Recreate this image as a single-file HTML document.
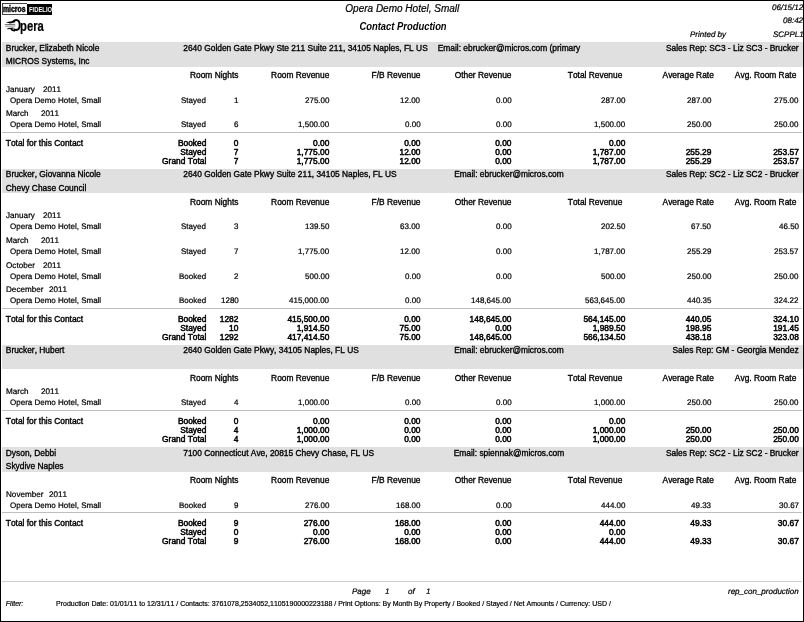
<!DOCTYPE html>
<html><head><meta charset="utf-8"><title>Contact Production</title>
<style>
html,body{margin:0;padding:0;background:#fff;}
body{width:804px;height:622px;position:relative;overflow:hidden;font-family:"Liberation Sans",Arial,sans-serif;color:#000;}
#pg{position:absolute;left:0;top:0;width:804px;height:622px;overflow:hidden;}
#pg span{position:absolute;white-space:pre;font-kerning:none;}
.band{position:absolute;left:2px;width:801px;background:#e0e0e0;}
.ln{position:absolute;left:2px;width:800px;height:1px;}
.i{font-style:italic;}
.bi{font-style:italic;font-weight:bold;}
#frame{position:absolute;left:0;top:0;width:802px;height:620px;border:1px solid #000;box-sizing:content-box;pointer-events:none;}
</style></head><body><div id="pg">
<div style="position:absolute;left:2px;top:3px;width:25px;height:12px;border:1px solid #444;border-right:0;box-sizing:border-box;background:#fff"></div>
<div style="position:absolute;left:27px;top:4px;width:25px;height:11px;background:#000"></div>
<span style="top:4px;font-size:8.5px;line-height:10px;left:3.40px;-webkit-text-stroke:0.45px;font-weight:bold;transform:scaleX(0.81);transform-origin:left;">micros</span>
<span style="top:6px;font-size:6.3px;line-height:7px;left:28.80px;font-weight:bold;color:#fff;transform:scaleX(0.93);transform-origin:left;">FIDELIO</span>
<span style="top:17px;font-size:15.2px;line-height:17px;left:10.60px;-webkit-text-stroke:0.2px;font-weight:bold;transform:scaleX(0.74);transform-origin:left;"><b style="display:inline-block;font-size:16px;transform:scaleX(1.108);transform-origin:left;margin-right:-0.27px;-webkit-text-stroke:0">O</b>pera</span>
<svg style="position:absolute;left:3px;top:18px" width="14" height="15" viewBox="3 18 14 15">
<rect x="3" y="22.0" width="11.2" height="7.6" fill="#fff"/>
<path d="M5.9 22.3 L13.0 21.0 L15.2 20.3 L15.2 22.3 L10 23.4 Z" fill="#000"/>
<path d="M4.8 24.7 L15.2 24.3" stroke="#6a6a6a" stroke-width="1"/>
<path d="M5.3 26.3 L15.4 25.9" stroke="#909090" stroke-width="1"/>
<path d="M7.4 28.6 L13.6 28.1" stroke="#1a1a1a" stroke-width="1.2"/>
<path d="M10.9 28.9 Q12.4 30.9 15 30.7" stroke="#000" stroke-width="1.6" fill="none"/>
</svg>
<span class="i" style="top:3px;font-size:10px;line-height:11px;left:202.30px;width:400px;text-align:center;-webkit-text-stroke:0.2px;">Opera Demo Hotel, Small</span>
<span class="bi" style="top:21px;font-size:10.4px;line-height:11px;left:202.60px;width:400px;text-align:center;transform:scaleX(0.905);">Contact Production</span>
<span class="i" style="top:3px;font-size:8px;line-height:9px;right:0.70px;-webkit-text-stroke:0.22px;transform:matrix(1,0,0.002,1,0,0);">06/15/12</span>
<span class="i" style="top:16px;font-size:8px;line-height:9px;right:0.70px;-webkit-text-stroke:0.22px;transform:matrix(1,0,0.002,1,0,0);">08:42</span>
<span class="i" style="top:30px;font-size:8px;line-height:9px;right:0.70px;-webkit-text-stroke:0.22px;transform:matrix(1,0,0.002,1,0,0);">SCPPL1</span>
<span class="i" style="top:30px;font-size:8px;line-height:9px;left:689.80px;-webkit-text-stroke:0.22px;transform:matrix(1,0,0.002,1,0,0);">Printed by</span>
<div class="band" style="top:42px;height:25px"></div>
<span style="top:43px;font-size:8.4px;line-height:10px;left:5.80px;-webkit-text-stroke:0.33px;">Brucker, Elizabeth Nicole</span>
<span style="top:56px;font-size:8.4px;line-height:10px;left:5.80px;-webkit-text-stroke:0.33px;">MICROS Systems, Inc</span>
<span style="top:43px;font-size:8.4px;line-height:10px;left:183.30px;-webkit-text-stroke:0.33px;">2640 Golden Gate Pkwy Ste 211 Suite 211, 34105 Naples, FL US</span>
<span style="top:43px;font-size:8.4px;line-height:10px;left:309.00px;width:400px;text-align:center;-webkit-text-stroke:0.33px;">Email: ebrucker@micros.com (primary</span>
<span style="top:43px;font-size:8.4px;line-height:10px;right:5.40px;-webkit-text-stroke:0.33px;">Sales Rep: SC3 - Liz SC3 - Brucker</span>
<span style="top:70px;font-size:8.4px;line-height:10px;right:565.60px;-webkit-text-stroke:0.33px;">Room Nights</span>
<span style="top:70px;font-size:8.4px;line-height:10px;right:474.70px;-webkit-text-stroke:0.33px;">Room Revenue</span>
<span style="top:70px;font-size:8.4px;line-height:10px;right:383.50px;-webkit-text-stroke:0.33px;">F/B Revenue</span>
<span style="top:70px;font-size:8.4px;line-height:10px;right:292.50px;-webkit-text-stroke:0.33px;">Other Revenue</span>
<span style="top:70px;font-size:8.4px;line-height:10px;right:181.70px;-webkit-text-stroke:0.33px;">Total Revenue</span>
<span style="top:70px;font-size:8.4px;line-height:10px;right:90.20px;-webkit-text-stroke:0.33px;">Average Rate</span>
<span style="top:70px;font-size:8.4px;line-height:10px;right:7.70px;-webkit-text-stroke:0.33px;">Avg. Room Rate</span>
<span style="top:85px;font-size:8.15px;line-height:9px;left:5.80px;-webkit-text-stroke:0.22px;transform:matrix(1,0,0.002,1,0,0);">January</span>
<span style="top:85px;font-size:8.15px;line-height:9px;left:43.10px;-webkit-text-stroke:0.22px;transform:matrix(1,0,0.002,1,0,0);">2011</span>
<span style="top:96px;font-size:8.0px;line-height:9px;left:10.20px;-webkit-text-stroke:0.22px;transform:matrix(1,0,0.002,1,0,0);">Opera Demo Hotel, Small</span>
<span style="top:96px;font-size:8.0px;line-height:9px;right:597.70px;-webkit-text-stroke:0.22px;transform:matrix(1,0,0.002,1,0,0);">Stayed</span>
<span style="top:96px;font-size:8.0px;line-height:9px;right:565.60px;-webkit-text-stroke:0.22px;transform:matrix(1,0,0.002,1,0,0);">1</span>
<span style="top:96px;font-size:8.0px;line-height:9px;right:474.70px;-webkit-text-stroke:0.22px;transform:matrix(1,0,0.002,1,0,0);">275.00</span>
<span style="top:96px;font-size:8.0px;line-height:9px;right:383.50px;-webkit-text-stroke:0.22px;transform:matrix(1,0,0.002,1,0,0);">12.00</span>
<span style="top:96px;font-size:8.0px;line-height:9px;right:292.50px;-webkit-text-stroke:0.22px;transform:matrix(1,0,0.002,1,0,0);">0.00</span>
<span style="top:96px;font-size:8.0px;line-height:9px;right:178.70px;-webkit-text-stroke:0.22px;transform:matrix(1,0,0.002,1,0,0);">287.00</span>
<span style="top:96px;font-size:8.0px;line-height:9px;right:92.70px;-webkit-text-stroke:0.22px;transform:matrix(1,0,0.002,1,0,0);">287.00</span>
<span style="top:96px;font-size:8.0px;line-height:9px;right:5.20px;-webkit-text-stroke:0.22px;transform:matrix(1,0,0.002,1,0,0);">275.00</span>
<span style="top:109px;font-size:8.15px;line-height:9px;left:5.80px;-webkit-text-stroke:0.22px;transform:matrix(1,0,0.002,1,0,0);">March</span>
<span style="top:109px;font-size:8.15px;line-height:9px;left:41.10px;-webkit-text-stroke:0.22px;transform:matrix(1,0,0.002,1,0,0);">2011</span>
<span style="top:120px;font-size:8.0px;line-height:9px;left:10.20px;-webkit-text-stroke:0.22px;transform:matrix(1,0,0.002,1,0,0);">Opera Demo Hotel, Small</span>
<span style="top:120px;font-size:8.0px;line-height:9px;right:597.70px;-webkit-text-stroke:0.22px;transform:matrix(1,0,0.002,1,0,0);">Stayed</span>
<span style="top:120px;font-size:8.0px;line-height:9px;right:565.60px;-webkit-text-stroke:0.22px;transform:matrix(1,0,0.002,1,0,0);">6</span>
<span style="top:120px;font-size:8.0px;line-height:9px;right:474.70px;-webkit-text-stroke:0.22px;transform:matrix(1,0,0.002,1,0,0);">1,500.00</span>
<span style="top:120px;font-size:8.0px;line-height:9px;right:383.50px;-webkit-text-stroke:0.22px;transform:matrix(1,0,0.002,1,0,0);">0.00</span>
<span style="top:120px;font-size:8.0px;line-height:9px;right:292.50px;-webkit-text-stroke:0.22px;transform:matrix(1,0,0.002,1,0,0);">0.00</span>
<span style="top:120px;font-size:8.0px;line-height:9px;right:178.70px;-webkit-text-stroke:0.22px;transform:matrix(1,0,0.002,1,0,0);">1,500.00</span>
<span style="top:120px;font-size:8.0px;line-height:9px;right:92.70px;-webkit-text-stroke:0.22px;transform:matrix(1,0,0.002,1,0,0);">250.00</span>
<span style="top:120px;font-size:8.0px;line-height:9px;right:5.20px;-webkit-text-stroke:0.22px;transform:matrix(1,0,0.002,1,0,0);">250.00</span>
<div class="ln" style="top:132px;background:#bebebe"></div>
<span style="top:138px;font-size:8.4px;line-height:10px;left:5.80px;-webkit-text-stroke:0.38px;">Total for this Contact</span>
<span style="top:138px;font-size:8.4px;line-height:10px;right:597.70px;-webkit-text-stroke:0.48px;">Booked</span>
<span style="top:138px;font-size:8.4px;line-height:10px;right:565.60px;-webkit-text-stroke:0.48px;">0</span>
<span style="top:138px;font-size:8.4px;line-height:10px;right:474.70px;-webkit-text-stroke:0.48px;">0.00</span>
<span style="top:138px;font-size:8.4px;line-height:10px;right:383.50px;-webkit-text-stroke:0.48px;">0.00</span>
<span style="top:138px;font-size:8.4px;line-height:10px;right:292.50px;-webkit-text-stroke:0.48px;">0.00</span>
<span style="top:138px;font-size:8.4px;line-height:10px;right:178.70px;-webkit-text-stroke:0.48px;">0.00</span>
<span style="top:147px;font-size:8.4px;line-height:10px;right:597.70px;-webkit-text-stroke:0.48px;">Stayed</span>
<span style="top:147px;font-size:8.4px;line-height:10px;right:565.60px;-webkit-text-stroke:0.48px;">7</span>
<span style="top:147px;font-size:8.4px;line-height:10px;right:474.70px;-webkit-text-stroke:0.48px;">1,775.00</span>
<span style="top:147px;font-size:8.4px;line-height:10px;right:383.50px;-webkit-text-stroke:0.48px;">12.00</span>
<span style="top:147px;font-size:8.4px;line-height:10px;right:292.50px;-webkit-text-stroke:0.48px;">0.00</span>
<span style="top:147px;font-size:8.4px;line-height:10px;right:178.70px;-webkit-text-stroke:0.48px;">1,787.00</span>
<span style="top:147px;font-size:8.4px;line-height:10px;right:92.70px;-webkit-text-stroke:0.48px;">255.29</span>
<span style="top:147px;font-size:8.4px;line-height:10px;right:5.20px;-webkit-text-stroke:0.48px;">253.57</span>
<span style="top:156px;font-size:8.4px;line-height:10px;right:597.70px;-webkit-text-stroke:0.48px;">Grand Total</span>
<span style="top:156px;font-size:8.4px;line-height:10px;right:565.60px;-webkit-text-stroke:0.48px;">7</span>
<span style="top:156px;font-size:8.4px;line-height:10px;right:474.70px;-webkit-text-stroke:0.48px;">1,775.00</span>
<span style="top:156px;font-size:8.4px;line-height:10px;right:383.50px;-webkit-text-stroke:0.48px;">12.00</span>
<span style="top:156px;font-size:8.4px;line-height:10px;right:292.50px;-webkit-text-stroke:0.48px;">0.00</span>
<span style="top:156px;font-size:8.4px;line-height:10px;right:178.70px;-webkit-text-stroke:0.48px;">1,787.00</span>
<span style="top:156px;font-size:8.4px;line-height:10px;right:92.70px;-webkit-text-stroke:0.48px;">255.29</span>
<span style="top:156px;font-size:8.4px;line-height:10px;right:5.20px;-webkit-text-stroke:0.48px;">253.57</span>
<div class="band" style="top:169px;height:24px"></div>
<span style="top:169px;font-size:8.4px;line-height:10px;left:5.80px;-webkit-text-stroke:0.33px;">Brucker, Giovanna Nicole</span>
<span style="top:183px;font-size:8.4px;line-height:10px;left:5.80px;-webkit-text-stroke:0.33px;">Chevy Chase Council</span>
<span style="top:169px;font-size:8.4px;line-height:10px;left:183.30px;-webkit-text-stroke:0.33px;">2640 Golden Gate Pkwy Suite 211, 34105 Naples, FL US</span>
<span style="top:169px;font-size:8.4px;line-height:10px;left:309.00px;width:400px;text-align:center;-webkit-text-stroke:0.33px;">Email: ebrucker@micros.com</span>
<span style="top:169px;font-size:8.4px;line-height:10px;right:5.40px;-webkit-text-stroke:0.33px;">Sales Rep: SC2 - Liz SC2 - Brucker</span>
<span style="top:197px;font-size:8.4px;line-height:10px;right:565.60px;-webkit-text-stroke:0.33px;">Room Nights</span>
<span style="top:197px;font-size:8.4px;line-height:10px;right:474.70px;-webkit-text-stroke:0.33px;">Room Revenue</span>
<span style="top:197px;font-size:8.4px;line-height:10px;right:383.50px;-webkit-text-stroke:0.33px;">F/B Revenue</span>
<span style="top:197px;font-size:8.4px;line-height:10px;right:292.50px;-webkit-text-stroke:0.33px;">Other Revenue</span>
<span style="top:197px;font-size:8.4px;line-height:10px;right:181.70px;-webkit-text-stroke:0.33px;">Total Revenue</span>
<span style="top:197px;font-size:8.4px;line-height:10px;right:90.20px;-webkit-text-stroke:0.33px;">Average Rate</span>
<span style="top:197px;font-size:8.4px;line-height:10px;right:7.70px;-webkit-text-stroke:0.33px;">Avg. Room Rate</span>
<span style="top:211px;font-size:8.15px;line-height:9px;left:5.80px;-webkit-text-stroke:0.22px;transform:matrix(1,0,0.002,1,0,0);">January</span>
<span style="top:211px;font-size:8.15px;line-height:9px;left:43.10px;-webkit-text-stroke:0.22px;transform:matrix(1,0,0.002,1,0,0);">2011</span>
<span style="top:222px;font-size:8.0px;line-height:9px;left:10.20px;-webkit-text-stroke:0.22px;transform:matrix(1,0,0.002,1,0,0);">Opera Demo Hotel, Small</span>
<span style="top:222px;font-size:8.0px;line-height:9px;right:597.70px;-webkit-text-stroke:0.22px;transform:matrix(1,0,0.002,1,0,0);">Stayed</span>
<span style="top:222px;font-size:8.0px;line-height:9px;right:565.60px;-webkit-text-stroke:0.22px;transform:matrix(1,0,0.002,1,0,0);">3</span>
<span style="top:222px;font-size:8.0px;line-height:9px;right:474.70px;-webkit-text-stroke:0.22px;transform:matrix(1,0,0.002,1,0,0);">139.50</span>
<span style="top:222px;font-size:8.0px;line-height:9px;right:383.50px;-webkit-text-stroke:0.22px;transform:matrix(1,0,0.002,1,0,0);">63.00</span>
<span style="top:222px;font-size:8.0px;line-height:9px;right:292.50px;-webkit-text-stroke:0.22px;transform:matrix(1,0,0.002,1,0,0);">0.00</span>
<span style="top:222px;font-size:8.0px;line-height:9px;right:178.70px;-webkit-text-stroke:0.22px;transform:matrix(1,0,0.002,1,0,0);">202.50</span>
<span style="top:222px;font-size:8.0px;line-height:9px;right:92.70px;-webkit-text-stroke:0.22px;transform:matrix(1,0,0.002,1,0,0);">67.50</span>
<span style="top:222px;font-size:8.0px;line-height:9px;right:5.20px;-webkit-text-stroke:0.22px;transform:matrix(1,0,0.002,1,0,0);">46.50</span>
<span style="top:236px;font-size:8.15px;line-height:9px;left:5.80px;-webkit-text-stroke:0.22px;transform:matrix(1,0,0.002,1,0,0);">March</span>
<span style="top:236px;font-size:8.15px;line-height:9px;left:41.10px;-webkit-text-stroke:0.22px;transform:matrix(1,0,0.002,1,0,0);">2011</span>
<span style="top:247px;font-size:8.0px;line-height:9px;left:10.20px;-webkit-text-stroke:0.22px;transform:matrix(1,0,0.002,1,0,0);">Opera Demo Hotel, Small</span>
<span style="top:247px;font-size:8.0px;line-height:9px;right:597.70px;-webkit-text-stroke:0.22px;transform:matrix(1,0,0.002,1,0,0);">Stayed</span>
<span style="top:247px;font-size:8.0px;line-height:9px;right:565.60px;-webkit-text-stroke:0.22px;transform:matrix(1,0,0.002,1,0,0);">7</span>
<span style="top:247px;font-size:8.0px;line-height:9px;right:474.70px;-webkit-text-stroke:0.22px;transform:matrix(1,0,0.002,1,0,0);">1,775.00</span>
<span style="top:247px;font-size:8.0px;line-height:9px;right:383.50px;-webkit-text-stroke:0.22px;transform:matrix(1,0,0.002,1,0,0);">12.00</span>
<span style="top:247px;font-size:8.0px;line-height:9px;right:292.50px;-webkit-text-stroke:0.22px;transform:matrix(1,0,0.002,1,0,0);">0.00</span>
<span style="top:247px;font-size:8.0px;line-height:9px;right:178.70px;-webkit-text-stroke:0.22px;transform:matrix(1,0,0.002,1,0,0);">1,787.00</span>
<span style="top:247px;font-size:8.0px;line-height:9px;right:92.70px;-webkit-text-stroke:0.22px;transform:matrix(1,0,0.002,1,0,0);">255.29</span>
<span style="top:247px;font-size:8.0px;line-height:9px;right:5.20px;-webkit-text-stroke:0.22px;transform:matrix(1,0,0.002,1,0,0);">253.57</span>
<span style="top:261px;font-size:8.15px;line-height:9px;left:5.80px;-webkit-text-stroke:0.22px;transform:matrix(1,0,0.002,1,0,0);">October</span>
<span style="top:261px;font-size:8.15px;line-height:9px;left:43.10px;-webkit-text-stroke:0.22px;transform:matrix(1,0,0.002,1,0,0);">2011</span>
<span style="top:272px;font-size:8.0px;line-height:9px;left:10.20px;-webkit-text-stroke:0.22px;transform:matrix(1,0,0.002,1,0,0);">Opera Demo Hotel, Small</span>
<span style="top:272px;font-size:8.0px;line-height:9px;right:597.70px;-webkit-text-stroke:0.22px;transform:matrix(1,0,0.002,1,0,0);">Booked</span>
<span style="top:272px;font-size:8.0px;line-height:9px;right:565.60px;-webkit-text-stroke:0.22px;transform:matrix(1,0,0.002,1,0,0);">2</span>
<span style="top:272px;font-size:8.0px;line-height:9px;right:474.70px;-webkit-text-stroke:0.22px;transform:matrix(1,0,0.002,1,0,0);">500.00</span>
<span style="top:272px;font-size:8.0px;line-height:9px;right:383.50px;-webkit-text-stroke:0.22px;transform:matrix(1,0,0.002,1,0,0);">0.00</span>
<span style="top:272px;font-size:8.0px;line-height:9px;right:292.50px;-webkit-text-stroke:0.22px;transform:matrix(1,0,0.002,1,0,0);">0.00</span>
<span style="top:272px;font-size:8.0px;line-height:9px;right:178.70px;-webkit-text-stroke:0.22px;transform:matrix(1,0,0.002,1,0,0);">500.00</span>
<span style="top:272px;font-size:8.0px;line-height:9px;right:92.70px;-webkit-text-stroke:0.22px;transform:matrix(1,0,0.002,1,0,0);">250.00</span>
<span style="top:272px;font-size:8.0px;line-height:9px;right:5.20px;-webkit-text-stroke:0.22px;transform:matrix(1,0,0.002,1,0,0);">250.00</span>
<span style="top:285px;font-size:8.15px;line-height:9px;left:5.80px;-webkit-text-stroke:0.22px;transform:matrix(1,0,0.002,1,0,0);">December</span>
<span style="top:285px;font-size:8.15px;line-height:9px;left:48.80px;-webkit-text-stroke:0.22px;transform:matrix(1,0,0.002,1,0,0);">2011</span>
<span style="top:296px;font-size:8.0px;line-height:9px;left:10.20px;-webkit-text-stroke:0.22px;transform:matrix(1,0,0.002,1,0,0);">Opera Demo Hotel, Small</span>
<span style="top:296px;font-size:8.0px;line-height:9px;right:597.70px;-webkit-text-stroke:0.22px;transform:matrix(1,0,0.002,1,0,0);">Booked</span>
<span style="top:296px;font-size:8.0px;line-height:9px;right:565.60px;-webkit-text-stroke:0.22px;transform:matrix(1,0,0.002,1,0,0);">1280</span>
<span style="top:296px;font-size:8.0px;line-height:9px;right:474.70px;-webkit-text-stroke:0.22px;transform:matrix(1,0,0.002,1,0,0);">415,000.00</span>
<span style="top:296px;font-size:8.0px;line-height:9px;right:383.50px;-webkit-text-stroke:0.22px;transform:matrix(1,0,0.002,1,0,0);">0.00</span>
<span style="top:296px;font-size:8.0px;line-height:9px;right:292.50px;-webkit-text-stroke:0.22px;transform:matrix(1,0,0.002,1,0,0);">148,645.00</span>
<span style="top:296px;font-size:8.0px;line-height:9px;right:178.70px;-webkit-text-stroke:0.22px;transform:matrix(1,0,0.002,1,0,0);">563,645.00</span>
<span style="top:296px;font-size:8.0px;line-height:9px;right:92.70px;-webkit-text-stroke:0.22px;transform:matrix(1,0,0.002,1,0,0);">440.35</span>
<span style="top:296px;font-size:8.0px;line-height:9px;right:5.20px;-webkit-text-stroke:0.22px;transform:matrix(1,0,0.002,1,0,0);">324.22</span>
<div class="ln" style="top:308px;background:#bebebe"></div>
<span style="top:314px;font-size:8.4px;line-height:10px;left:5.80px;-webkit-text-stroke:0.38px;">Total for this Contact</span>
<span style="top:314px;font-size:8.4px;line-height:10px;right:597.70px;-webkit-text-stroke:0.48px;">Booked</span>
<span style="top:314px;font-size:8.4px;line-height:10px;right:565.60px;-webkit-text-stroke:0.48px;">1282</span>
<span style="top:314px;font-size:8.4px;line-height:10px;right:474.70px;-webkit-text-stroke:0.48px;">415,500.00</span>
<span style="top:314px;font-size:8.4px;line-height:10px;right:383.50px;-webkit-text-stroke:0.48px;">0.00</span>
<span style="top:314px;font-size:8.4px;line-height:10px;right:292.50px;-webkit-text-stroke:0.48px;">148,645.00</span>
<span style="top:314px;font-size:8.4px;line-height:10px;right:178.70px;-webkit-text-stroke:0.48px;">564,145.00</span>
<span style="top:314px;font-size:8.4px;line-height:10px;right:92.70px;-webkit-text-stroke:0.48px;">440.05</span>
<span style="top:314px;font-size:8.4px;line-height:10px;right:5.20px;-webkit-text-stroke:0.48px;">324.10</span>
<span style="top:323px;font-size:8.4px;line-height:10px;right:597.70px;-webkit-text-stroke:0.48px;">Stayed</span>
<span style="top:323px;font-size:8.4px;line-height:10px;right:565.60px;-webkit-text-stroke:0.48px;">10</span>
<span style="top:323px;font-size:8.4px;line-height:10px;right:474.70px;-webkit-text-stroke:0.48px;">1,914.50</span>
<span style="top:323px;font-size:8.4px;line-height:10px;right:383.50px;-webkit-text-stroke:0.48px;">75.00</span>
<span style="top:323px;font-size:8.4px;line-height:10px;right:292.50px;-webkit-text-stroke:0.48px;">0.00</span>
<span style="top:323px;font-size:8.4px;line-height:10px;right:178.70px;-webkit-text-stroke:0.48px;">1,989.50</span>
<span style="top:323px;font-size:8.4px;line-height:10px;right:92.70px;-webkit-text-stroke:0.48px;">198.95</span>
<span style="top:323px;font-size:8.4px;line-height:10px;right:5.20px;-webkit-text-stroke:0.48px;">191.45</span>
<span style="top:332px;font-size:8.4px;line-height:10px;right:597.70px;-webkit-text-stroke:0.48px;">Grand Total</span>
<span style="top:332px;font-size:8.4px;line-height:10px;right:565.60px;-webkit-text-stroke:0.48px;">1292</span>
<span style="top:332px;font-size:8.4px;line-height:10px;right:474.70px;-webkit-text-stroke:0.48px;">417,414.50</span>
<span style="top:332px;font-size:8.4px;line-height:10px;right:383.50px;-webkit-text-stroke:0.48px;">75.00</span>
<span style="top:332px;font-size:8.4px;line-height:10px;right:292.50px;-webkit-text-stroke:0.48px;">148,645.00</span>
<span style="top:332px;font-size:8.4px;line-height:10px;right:178.70px;-webkit-text-stroke:0.48px;">566,134.50</span>
<span style="top:332px;font-size:8.4px;line-height:10px;right:92.70px;-webkit-text-stroke:0.48px;">438.18</span>
<span style="top:332px;font-size:8.4px;line-height:10px;right:5.20px;-webkit-text-stroke:0.48px;">323.08</span>
<div class="band" style="top:345px;height:24px"></div>
<span style="top:345px;font-size:8.4px;line-height:10px;left:5.80px;-webkit-text-stroke:0.33px;">Brucker, Hubert</span>
<span style="top:345px;font-size:8.4px;line-height:10px;left:183.30px;-webkit-text-stroke:0.33px;">2640 Golden Gate Pkwy, 34105 Naples, FL US</span>
<span style="top:345px;font-size:8.4px;line-height:10px;left:309.00px;width:400px;text-align:center;-webkit-text-stroke:0.33px;">Email: ebrucker@micros.com</span>
<span style="top:345px;font-size:8.4px;line-height:10px;right:5.40px;-webkit-text-stroke:0.33px;">Sales Rep: GM - Georgia Mendez</span>
<span style="top:373px;font-size:8.4px;line-height:10px;right:565.60px;-webkit-text-stroke:0.33px;">Room Nights</span>
<span style="top:373px;font-size:8.4px;line-height:10px;right:474.70px;-webkit-text-stroke:0.33px;">Room Revenue</span>
<span style="top:373px;font-size:8.4px;line-height:10px;right:383.50px;-webkit-text-stroke:0.33px;">F/B Revenue</span>
<span style="top:373px;font-size:8.4px;line-height:10px;right:292.50px;-webkit-text-stroke:0.33px;">Other Revenue</span>
<span style="top:373px;font-size:8.4px;line-height:10px;right:181.70px;-webkit-text-stroke:0.33px;">Total Revenue</span>
<span style="top:373px;font-size:8.4px;line-height:10px;right:90.20px;-webkit-text-stroke:0.33px;">Average Rate</span>
<span style="top:373px;font-size:8.4px;line-height:10px;right:7.70px;-webkit-text-stroke:0.33px;">Avg. Room Rate</span>
<span style="top:387px;font-size:8.15px;line-height:9px;left:5.80px;-webkit-text-stroke:0.22px;transform:matrix(1,0,0.002,1,0,0);">March</span>
<span style="top:387px;font-size:8.15px;line-height:9px;left:41.10px;-webkit-text-stroke:0.22px;transform:matrix(1,0,0.002,1,0,0);">2011</span>
<span style="top:398px;font-size:8.0px;line-height:9px;left:10.20px;-webkit-text-stroke:0.22px;transform:matrix(1,0,0.002,1,0,0);">Opera Demo Hotel, Small</span>
<span style="top:398px;font-size:8.0px;line-height:9px;right:597.70px;-webkit-text-stroke:0.22px;transform:matrix(1,0,0.002,1,0,0);">Stayed</span>
<span style="top:398px;font-size:8.0px;line-height:9px;right:565.60px;-webkit-text-stroke:0.22px;transform:matrix(1,0,0.002,1,0,0);">4</span>
<span style="top:398px;font-size:8.0px;line-height:9px;right:474.70px;-webkit-text-stroke:0.22px;transform:matrix(1,0,0.002,1,0,0);">1,000.00</span>
<span style="top:398px;font-size:8.0px;line-height:9px;right:383.50px;-webkit-text-stroke:0.22px;transform:matrix(1,0,0.002,1,0,0);">0.00</span>
<span style="top:398px;font-size:8.0px;line-height:9px;right:292.50px;-webkit-text-stroke:0.22px;transform:matrix(1,0,0.002,1,0,0);">0.00</span>
<span style="top:398px;font-size:8.0px;line-height:9px;right:178.70px;-webkit-text-stroke:0.22px;transform:matrix(1,0,0.002,1,0,0);">1,000.00</span>
<span style="top:398px;font-size:8.0px;line-height:9px;right:92.70px;-webkit-text-stroke:0.22px;transform:matrix(1,0,0.002,1,0,0);">250.00</span>
<span style="top:398px;font-size:8.0px;line-height:9px;right:5.20px;-webkit-text-stroke:0.22px;transform:matrix(1,0,0.002,1,0,0);">250.00</span>
<div class="ln" style="top:410px;background:#bebebe"></div>
<span style="top:416px;font-size:8.4px;line-height:10px;left:5.80px;-webkit-text-stroke:0.38px;">Total for this Contact</span>
<span style="top:416px;font-size:8.4px;line-height:10px;right:597.70px;-webkit-text-stroke:0.48px;">Booked</span>
<span style="top:416px;font-size:8.4px;line-height:10px;right:565.60px;-webkit-text-stroke:0.48px;">0</span>
<span style="top:416px;font-size:8.4px;line-height:10px;right:474.70px;-webkit-text-stroke:0.48px;">0.00</span>
<span style="top:416px;font-size:8.4px;line-height:10px;right:383.50px;-webkit-text-stroke:0.48px;">0.00</span>
<span style="top:416px;font-size:8.4px;line-height:10px;right:292.50px;-webkit-text-stroke:0.48px;">0.00</span>
<span style="top:416px;font-size:8.4px;line-height:10px;right:178.70px;-webkit-text-stroke:0.48px;">0.00</span>
<span style="top:425px;font-size:8.4px;line-height:10px;right:597.70px;-webkit-text-stroke:0.48px;">Stayed</span>
<span style="top:425px;font-size:8.4px;line-height:10px;right:565.60px;-webkit-text-stroke:0.48px;">4</span>
<span style="top:425px;font-size:8.4px;line-height:10px;right:474.70px;-webkit-text-stroke:0.48px;">1,000.00</span>
<span style="top:425px;font-size:8.4px;line-height:10px;right:383.50px;-webkit-text-stroke:0.48px;">0.00</span>
<span style="top:425px;font-size:8.4px;line-height:10px;right:292.50px;-webkit-text-stroke:0.48px;">0.00</span>
<span style="top:425px;font-size:8.4px;line-height:10px;right:178.70px;-webkit-text-stroke:0.48px;">1,000.00</span>
<span style="top:425px;font-size:8.4px;line-height:10px;right:92.70px;-webkit-text-stroke:0.48px;">250.00</span>
<span style="top:425px;font-size:8.4px;line-height:10px;right:5.20px;-webkit-text-stroke:0.48px;">250.00</span>
<span style="top:434px;font-size:8.4px;line-height:10px;right:597.70px;-webkit-text-stroke:0.48px;">Grand Total</span>
<span style="top:434px;font-size:8.4px;line-height:10px;right:565.60px;-webkit-text-stroke:0.48px;">4</span>
<span style="top:434px;font-size:8.4px;line-height:10px;right:474.70px;-webkit-text-stroke:0.48px;">1,000.00</span>
<span style="top:434px;font-size:8.4px;line-height:10px;right:383.50px;-webkit-text-stroke:0.48px;">0.00</span>
<span style="top:434px;font-size:8.4px;line-height:10px;right:292.50px;-webkit-text-stroke:0.48px;">0.00</span>
<span style="top:434px;font-size:8.4px;line-height:10px;right:178.70px;-webkit-text-stroke:0.48px;">1,000.00</span>
<span style="top:434px;font-size:8.4px;line-height:10px;right:92.70px;-webkit-text-stroke:0.48px;">250.00</span>
<span style="top:434px;font-size:8.4px;line-height:10px;right:5.20px;-webkit-text-stroke:0.48px;">250.00</span>
<div class="band" style="top:447px;height:25px"></div>
<span style="top:448px;font-size:8.4px;line-height:10px;left:5.80px;-webkit-text-stroke:0.33px;">Dyson, Debbi</span>
<span style="top:461px;font-size:8.4px;line-height:10px;left:5.80px;-webkit-text-stroke:0.33px;">Skydive Naples</span>
<span style="top:448px;font-size:8.4px;line-height:10px;left:183.30px;-webkit-text-stroke:0.33px;">7100 Connecticut Ave, 20815 Chevy Chase, FL US</span>
<span style="top:448px;font-size:8.4px;line-height:10px;left:309.00px;width:400px;text-align:center;-webkit-text-stroke:0.33px;">Email: spiennak@micros.com</span>
<span style="top:448px;font-size:8.4px;line-height:10px;right:5.40px;-webkit-text-stroke:0.33px;">Sales Rep: SC2 - Liz SC2 - Brucker</span>
<span style="top:475px;font-size:8.4px;line-height:10px;right:565.60px;-webkit-text-stroke:0.33px;">Room Nights</span>
<span style="top:475px;font-size:8.4px;line-height:10px;right:474.70px;-webkit-text-stroke:0.33px;">Room Revenue</span>
<span style="top:475px;font-size:8.4px;line-height:10px;right:383.50px;-webkit-text-stroke:0.33px;">F/B Revenue</span>
<span style="top:475px;font-size:8.4px;line-height:10px;right:292.50px;-webkit-text-stroke:0.33px;">Other Revenue</span>
<span style="top:475px;font-size:8.4px;line-height:10px;right:181.70px;-webkit-text-stroke:0.33px;">Total Revenue</span>
<span style="top:475px;font-size:8.4px;line-height:10px;right:90.20px;-webkit-text-stroke:0.33px;">Average Rate</span>
<span style="top:475px;font-size:8.4px;line-height:10px;right:7.70px;-webkit-text-stroke:0.33px;">Avg. Room Rate</span>
<span style="top:490px;font-size:8.15px;line-height:9px;left:5.80px;-webkit-text-stroke:0.22px;transform:matrix(1,0,0.002,1,0,0);">November</span>
<span style="top:490px;font-size:8.15px;line-height:9px;left:48.80px;-webkit-text-stroke:0.22px;transform:matrix(1,0,0.002,1,0,0);">2011</span>
<span style="top:501px;font-size:8.0px;line-height:9px;left:10.20px;-webkit-text-stroke:0.22px;transform:matrix(1,0,0.002,1,0,0);">Opera Demo Hotel, Small</span>
<span style="top:501px;font-size:8.0px;line-height:9px;right:597.70px;-webkit-text-stroke:0.22px;transform:matrix(1,0,0.002,1,0,0);">Booked</span>
<span style="top:501px;font-size:8.0px;line-height:9px;right:565.60px;-webkit-text-stroke:0.22px;transform:matrix(1,0,0.002,1,0,0);">9</span>
<span style="top:501px;font-size:8.0px;line-height:9px;right:474.70px;-webkit-text-stroke:0.22px;transform:matrix(1,0,0.002,1,0,0);">276.00</span>
<span style="top:501px;font-size:8.0px;line-height:9px;right:383.50px;-webkit-text-stroke:0.22px;transform:matrix(1,0,0.002,1,0,0);">168.00</span>
<span style="top:501px;font-size:8.0px;line-height:9px;right:292.50px;-webkit-text-stroke:0.22px;transform:matrix(1,0,0.002,1,0,0);">0.00</span>
<span style="top:501px;font-size:8.0px;line-height:9px;right:178.70px;-webkit-text-stroke:0.22px;transform:matrix(1,0,0.002,1,0,0);">444.00</span>
<span style="top:501px;font-size:8.0px;line-height:9px;right:92.70px;-webkit-text-stroke:0.22px;transform:matrix(1,0,0.002,1,0,0);">49.33</span>
<span style="top:501px;font-size:8.0px;line-height:9px;right:5.20px;-webkit-text-stroke:0.22px;transform:matrix(1,0,0.002,1,0,0);">30.67</span>
<div class="ln" style="top:512px;background:#bebebe"></div>
<span style="top:518px;font-size:8.4px;line-height:10px;left:5.80px;-webkit-text-stroke:0.38px;">Total for this Contact</span>
<span style="top:518px;font-size:8.4px;line-height:10px;right:597.70px;-webkit-text-stroke:0.48px;">Booked</span>
<span style="top:518px;font-size:8.4px;line-height:10px;right:565.60px;-webkit-text-stroke:0.48px;">9</span>
<span style="top:518px;font-size:8.4px;line-height:10px;right:474.70px;-webkit-text-stroke:0.48px;">276.00</span>
<span style="top:518px;font-size:8.4px;line-height:10px;right:383.50px;-webkit-text-stroke:0.48px;">168.00</span>
<span style="top:518px;font-size:8.4px;line-height:10px;right:292.50px;-webkit-text-stroke:0.48px;">0.00</span>
<span style="top:518px;font-size:8.4px;line-height:10px;right:178.70px;-webkit-text-stroke:0.48px;">444.00</span>
<span style="top:518px;font-size:8.4px;line-height:10px;right:92.70px;-webkit-text-stroke:0.48px;">49.33</span>
<span style="top:518px;font-size:8.4px;line-height:10px;right:5.20px;-webkit-text-stroke:0.48px;">30.67</span>
<span style="top:527px;font-size:8.4px;line-height:10px;right:597.70px;-webkit-text-stroke:0.48px;">Stayed</span>
<span style="top:527px;font-size:8.4px;line-height:10px;right:565.60px;-webkit-text-stroke:0.48px;">0</span>
<span style="top:527px;font-size:8.4px;line-height:10px;right:474.70px;-webkit-text-stroke:0.48px;">0.00</span>
<span style="top:527px;font-size:8.4px;line-height:10px;right:383.50px;-webkit-text-stroke:0.48px;">0.00</span>
<span style="top:527px;font-size:8.4px;line-height:10px;right:292.50px;-webkit-text-stroke:0.48px;">0.00</span>
<span style="top:527px;font-size:8.4px;line-height:10px;right:178.70px;-webkit-text-stroke:0.48px;">0.00</span>
<span style="top:536px;font-size:8.4px;line-height:10px;right:597.70px;-webkit-text-stroke:0.48px;">Grand Total</span>
<span style="top:536px;font-size:8.4px;line-height:10px;right:565.60px;-webkit-text-stroke:0.48px;">9</span>
<span style="top:536px;font-size:8.4px;line-height:10px;right:474.70px;-webkit-text-stroke:0.48px;">276.00</span>
<span style="top:536px;font-size:8.4px;line-height:10px;right:383.50px;-webkit-text-stroke:0.48px;">168.00</span>
<span style="top:536px;font-size:8.4px;line-height:10px;right:292.50px;-webkit-text-stroke:0.48px;">0.00</span>
<span style="top:536px;font-size:8.4px;line-height:10px;right:178.70px;-webkit-text-stroke:0.48px;">444.00</span>
<span style="top:536px;font-size:8.4px;line-height:10px;right:92.70px;-webkit-text-stroke:0.48px;">49.33</span>
<span style="top:536px;font-size:8.4px;line-height:10px;right:5.20px;-webkit-text-stroke:0.48px;">30.67</span>
<div class="ln" style="top:581px;background:#cecece"></div>
<span class="i" style="top:587px;font-size:8px;line-height:9px;left:351.50px;-webkit-text-stroke:0.22px;transform:matrix(1,0,0.002,1,0,0);">Page</span>
<span class="i" style="top:587px;font-size:8px;line-height:9px;left:384.80px;-webkit-text-stroke:0.22px;transform:matrix(1,0,0.002,1,0,0);">1</span>
<span class="i" style="top:587px;font-size:8px;line-height:9px;left:408.30px;-webkit-text-stroke:0.22px;transform:matrix(1,0,0.002,1,0,0);">of</span>
<span class="i" style="top:587px;font-size:8px;line-height:9px;left:425.60px;-webkit-text-stroke:0.22px;transform:matrix(1,0,0.002,1,0,0);">1</span>
<span class="i" style="top:587px;font-size:8px;line-height:9px;right:5.50px;-webkit-text-stroke:0.22px;transform:matrix(1,0,0.002,1,0,0);">rep_con_production</span>
<span class="i" style="top:600px;font-size:7px;line-height:7px;left:5.80px;-webkit-text-stroke:0.2px;">Filter:</span>
<span style="top:600px;font-size:7px;line-height:7px;left:56.00px;-webkit-text-stroke:0.2px;">Production Date: 01/01/11 to 12/31/11 / Contacts: 3761078,2534052,1105190000223188 / Print Options: By Month By Property / Booked / Stayed / Net Amounts / Currency: USD /</span>
<div id="frame"></div>
</div></body></html>
